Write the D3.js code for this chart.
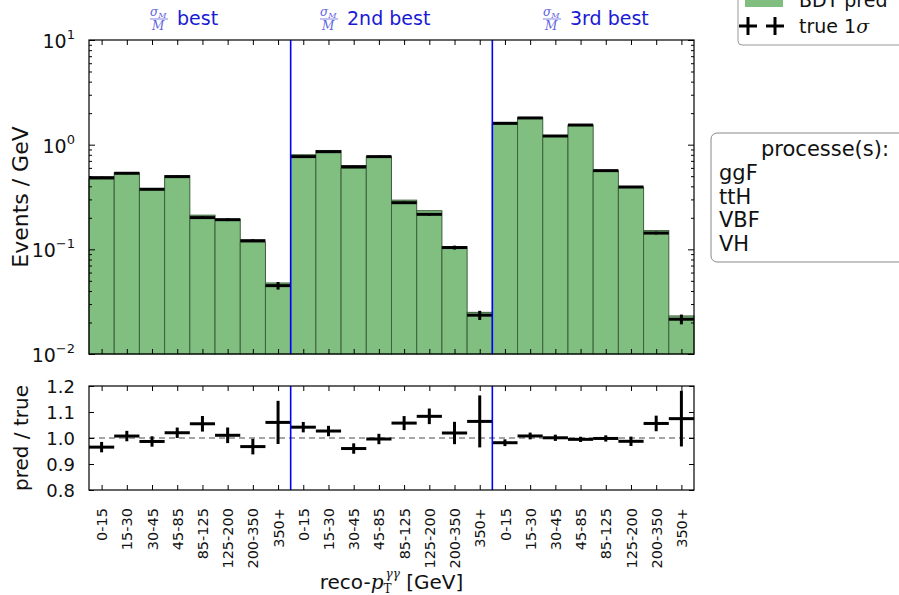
<!DOCTYPE html>
<html lang="en">
<head>
<meta charset="utf-8">
<title>BDT pred vs true</title>
<script src="https://d3js.org/d3.v7.min.js"></script>
<style>
    body { margin: 0; background: #fff; }
    svg { font-family: "DejaVu Sans", sans-serif; }
    .axis line { stroke: #000; }
    .math { font-family: "DejaVu Serif", serif; font-style: italic; }
</style>
</head>
<body>
<script>
const w = 899, h = 595;
const left = 89, right = 694;
const top1 = 40, bot1 = 354;   // main panel
const top2 = 386, bot2 = 490;  // ratio panel

// data
const binLabels = ["0-15", "15-30", "30-45", "45-85", "85-125", "125-200", "200-350", "350+"];
const groupTitles = ["best", "2nd best", "3rd best"];
const titleX = [150, 320, 543];
const trueVals = [0.484, 0.533, 0.375, 0.495, 0.201, 0.192, 0.121, 0.045,
                  0.769, 0.857, 0.617, 0.769, 0.279, 0.216, 0.104, 0.0235,
                  1.60, 1.80, 1.21, 1.54, 0.565, 0.394, 0.143, 0.0215];
const predVals = [0.467, 0.537, 0.370, 0.505, 0.212, 0.194, 0.117, 0.0477,
                  0.801, 0.880, 0.592, 0.766, 0.295, 0.234, 0.106, 0.0250,
                  1.571, 1.814, 1.211, 1.532, 0.564, 0.389, 0.151, 0.0231];
const relErr = [0.02, 0.02, 0.02, 0.02, 0.03, 0.03, 0.03, 0.083,
                0.02, 0.02, 0.02, 0.02, 0.027, 0.03, 0.043, 0.10,
                0.013, 0.013, 0.012, 0.01, 0.012, 0.018, 0.03, 0.107];
const processes = ["ggF", "ttH", "VBF", "VH"];
const yTicksTop = [0.01, 0.1, 1, 10];
const yExp = ["\u22122", "\u22121", "0", "1"];
const yTicksRatio = [0.8, 0.9, 1.0, 1.1, 1.2];

const data = trueVals.map((t, i) => ({i: i, t: t, p: predVals[i], e: relErr[i], label: binLabels[i % 8]}));
const nBins = data.length;

const svg = d3.select("body").append("svg")
    .attr("width", w).attr("height", h);

// scales
const x = d3.scaleLinear().domain([0, nBins]).range([left, right]);
const y = d3.scaleLog().domain([0.01, 10]).range([bot1, top1]);
const yr = d3.scaleLinear().domain([0.8, 1.2]).range([bot2, top2]);
const centers = data.map(d => d.i + 0.5);
const minorTicks = [];
[0.01, 0.1, 1].forEach(b => { for (let k = 2; k <= 9; k++) minorTicks.push(b * k); });

// ---- main panel ----
svg.append("g").selectAll("rect")
    .data(data)
    .join("rect")
    .attr("x", d => x(d.i))
    .attr("width", d => x(d.i + 1) - x(d.i))
    .attr("y", d => y(d.p))
    .attr("height", d => bot1 - y(d.p))
    .attr("fill", "#80bf80")
    .attr("stroke", "#3d5f3d")
    .attr("stroke-width", 1);

// true values with error
const tr = svg.append("g");
tr.selectAll("line.h").data(data).join("line").attr("class", "h")
    .attr("x1", d => x(d.i)).attr("x2", d => x(d.i + 1))
    .attr("y1", d => y(d.t)).attr("y2", d => y(d.t))
    .attr("stroke", "#000").attr("stroke-width", 3);
tr.selectAll("line.v").data(data).join("line").attr("class", "v")
    .attr("x1", d => x(d.i + 0.5)).attr("x2", d => x(d.i + 0.5))
    .attr("y1", d => y(d.t * (1 - d.e))).attr("y2", d => y(d.t * (1 + d.e)))
    .attr("stroke", "#000").attr("stroke-width", 3);

// ---- ratio panel ----
svg.append("line")
    .attr("x1", left).attr("x2", right)
    .attr("y1", yr(1)).attr("y2", yr(1))
    .attr("stroke", "#888").attr("stroke-width", 1.3)
    .attr("stroke-dasharray", "6,4");

const rr = svg.append("g");
rr.selectAll("line.h").data(data).join("line").attr("class", "h")
    .attr("x1", d => x(d.i)).attr("x2", d => x(d.i + 1))
    .attr("y1", d => yr(d.p / d.t)).attr("y2", d => yr(d.p / d.t))
    .attr("stroke", "#000").attr("stroke-width", 3);
rr.selectAll("line.v").data(data).join("line").attr("class", "v")
    .attr("x1", d => x(d.i + 0.5)).attr("x2", d => x(d.i + 0.5))
    .attr("y1", d => yr(d.p / d.t - d.e)).attr("y2", d => yr(d.p / d.t + d.e))
    .attr("stroke", "#000").attr("stroke-width", 3);

// group separators
[8, 16].forEach(b => {
    [[top1, bot1], [top2, bot2]].forEach(r => {
        svg.append("line")
            .attr("x1", x(b)).attr("x2", x(b))
            .attr("y1", r[0]).attr("y2", r[1])
            .attr("stroke", "#0000ff").attr("stroke-width", 1.6);
    });
});

// ---- axes (inward ticks) ----
function noDomain(g) { g.select(".domain").remove(); }

// main panel x ticks
svg.append("g").attr("class", "axis").attr("transform", "translate(0," + bot1 + ")")
    .call(d3.axisBottom(x).tickValues(centers).tickSize(-5).tickFormat("")).call(noDomain);
svg.append("g").attr("class", "axis").attr("transform", "translate(0," + top1 + ")")
    .call(d3.axisTop(x).tickValues(centers).tickSize(-5).tickFormat("")).call(noDomain);
// main panel y ticks
svg.append("g").attr("class", "axis").attr("transform", "translate(" + left + ",0)")
    .call(d3.axisLeft(y).tickValues(yTicksTop).tickSize(-6).tickFormat("")).call(noDomain);
svg.append("g").attr("class", "axis").attr("transform", "translate(" + left + ",0)")
    .call(d3.axisLeft(y).tickValues(minorTicks).tickSize(-3).tickFormat("")).call(noDomain);
svg.append("g").attr("class", "axis").attr("transform", "translate(" + right + ",0)")
    .call(d3.axisRight(y).tickValues(yTicksTop).tickSize(-6).tickFormat("")).call(noDomain);
svg.append("g").attr("class", "axis").attr("transform", "translate(" + right + ",0)")
    .call(d3.axisRight(y).tickValues(minorTicks).tickSize(-3).tickFormat("")).call(noDomain);

// log labels 10^n
const yl = svg.append("g").selectAll("text")
    .data(yTicksTop)
    .join("text")
    .attr("x", 75)
    .attr("y", d => y(d) + 8)
    .attr("text-anchor", "end")
    .attr("font-size", 19)
    .attr("fill", "#111");
yl.append("tspan").text("10");
yl.append("tspan").attr("dy", -9).attr("font-size", 13).text((d, i) => yExp[i]);

// ratio panel ticks
const xb = svg.append("g").attr("class", "axis").attr("transform", "translate(0," + bot2 + ")")
    .call(d3.axisBottom(x).tickValues(centers).tickSize(-5).tickFormat((d, i) => data[i].label))
    .call(noDomain);
xb.selectAll("text")
    .attr("transform", "rotate(-90)")
    .attr("text-anchor", "end")
    .attr("x", -18).attr("y", 0).attr("dy", "0.35em")
    .attr("font-size", 14.5)
    .attr("font-family", "DejaVu Sans")
    .attr("fill", "#111");
svg.append("g").attr("class", "axis").attr("transform", "translate(0," + top2 + ")")
    .call(d3.axisTop(x).tickValues(centers).tickSize(-5).tickFormat("")).call(noDomain);
svg.append("g").attr("class", "axis").attr("transform", "translate(" + left + ",0)")
    .call(d3.axisLeft(yr).tickValues(yTicksRatio).tickSize(-5).tickFormat("")).call(noDomain);
svg.append("g").attr("class", "axis").attr("transform", "translate(" + right + ",0)")
    .call(d3.axisRight(yr).tickValues(yTicksRatio).tickSize(-5).tickFormat("")).call(noDomain);
svg.append("g").selectAll("text")
    .data(yTicksRatio)
    .join("text")
    .attr("x", 75)
    .attr("y", d => yr(d) + 6.5)
    .attr("text-anchor", "end")
    .attr("font-size", 18)
    .attr("fill", "#111")
    .text(d => d.toFixed(1));

// frames
[[top1, bot1], [top2, bot2]].forEach(r => {
    svg.append("rect")
        .attr("x", left).attr("y", r[0])
        .attr("width", right - left).attr("height", r[1] - r[0])
        .attr("fill", "none").attr("stroke", "#000").attr("stroke-width", 1.2);
});

// axis titles
svg.append("text")
    .attr("transform", "translate(28," + ((top1 + bot1) / 2) + ") rotate(-90)")
    .attr("text-anchor", "middle")
    .attr("font-size", 22)
    .attr("fill", "#111")
    .text("Events / GeV");
svg.append("text")
    .attr("transform", "translate(28," + ((top2 + bot2) / 2) + ") rotate(-90)")
    .attr("text-anchor", "middle")
    .attr("font-size", 20)
    .attr("fill", "#111")
    .text("pred / true");

const xl = svg.append("text")
    .attr("x", (left + right) / 2)
    .attr("y", 589)
    .attr("text-anchor", "middle")
    .attr("font-size", 20)
    .attr("fill", "#111");
xl.append("tspan").text("reco-");
xl.append("tspan").attr("class", "math").text("p");
xl.append("tspan").attr("font-family", "DejaVu Serif").attr("font-size", 12).attr("dy", 4).text("T");
xl.append("tspan").attr("class", "math").attr("font-size", 12).attr("dx", -6).attr("dy", -15).text("\u03b3\u03b3");
xl.append("tspan").attr("dy", 11).text(" [GeV]");

// group titles
groupTitles.forEach((t, g) => {
    const x0 = titleX[g];
    const gt = svg.append("g").attr("transform", "translate(" + x0 + ",0)");
    const num = gt.append("text").attr("class", "math").attr("x", 0).attr("y", 16)
        .attr("font-size", 12).attr("fill", "#6262e2");
    num.append("tspan").text("\u03c3");
    num.append("tspan").attr("font-size", 8).attr("dy", 2).text("M");
    gt.append("line").attr("x1", 0).attr("x2", 18).attr("y1", 19).attr("y2", 19)
        .attr("stroke", "#6262e2").attr("stroke-width", 0.8);
    gt.append("text").attr("class", "math").attr("x", 2).attr("y", 30)
        .attr("font-size", 12).attr("fill", "#6262e2").text("M");
    gt.append("text").attr("x", 27).attr("y", 25)
        .attr("font-size", 19).attr("fill", "#1a1ad4").text(t);
});

// legend: BDT pred / true (cut by the top edge, as in the original)
const lg = svg.append("g");
lg.append("rect").attr("x", 738).attr("y", -12).attr("width", 200).attr("height", 57)
    .attr("rx", 4).attr("fill", "#fff").attr("stroke", "#999").attr("stroke-width", 1);
lg.append("rect").attr("x", 745).attr("y", -8).attr("width", 38).attr("height", 15)
    .attr("fill", "#80bf80");
lg.append("text").attr("x", 799).attr("y", 7).attr("font-size", 19).attr("fill", "#111").text("BDT pred");
[748, 775].forEach(cx => {
    lg.append("line").attr("x1", cx - 9).attr("x2", cx + 9).attr("y1", 26).attr("y2", 26)
        .attr("stroke", "#000").attr("stroke-width", 3);
    lg.append("line").attr("x1", cx).attr("x2", cx).attr("y1", 17).attr("y2", 35)
        .attr("stroke", "#000").attr("stroke-width", 3);
});
const tl = lg.append("text").attr("x", 799).attr("y", 33).attr("font-size", 19).attr("fill", "#111");
tl.append("tspan").text("true 1");
tl.append("tspan").attr("class", "math").text("\u03c3");

// legend: processes
const pg = svg.append("g");
pg.append("rect").attr("x", 711).attr("y", 133).attr("width", 220).attr("height", 129)
    .attr("rx", 6).attr("fill", "#fff").attr("stroke", "#888").attr("stroke-width", 1);
pg.append("text").attr("x", 761).attr("y", 156).attr("font-size", 21).attr("fill", "#111")
    .text("processe(s):");
pg.selectAll("text.p").data(processes).join("text").attr("class", "p")
    .attr("x", 719)
    .attr("y", (d, i) => 180 + i * 23.7)
    .attr("font-size", 21)
    .attr("fill", "#111")
    .text(d => d);
</script>
</body>
</html>
